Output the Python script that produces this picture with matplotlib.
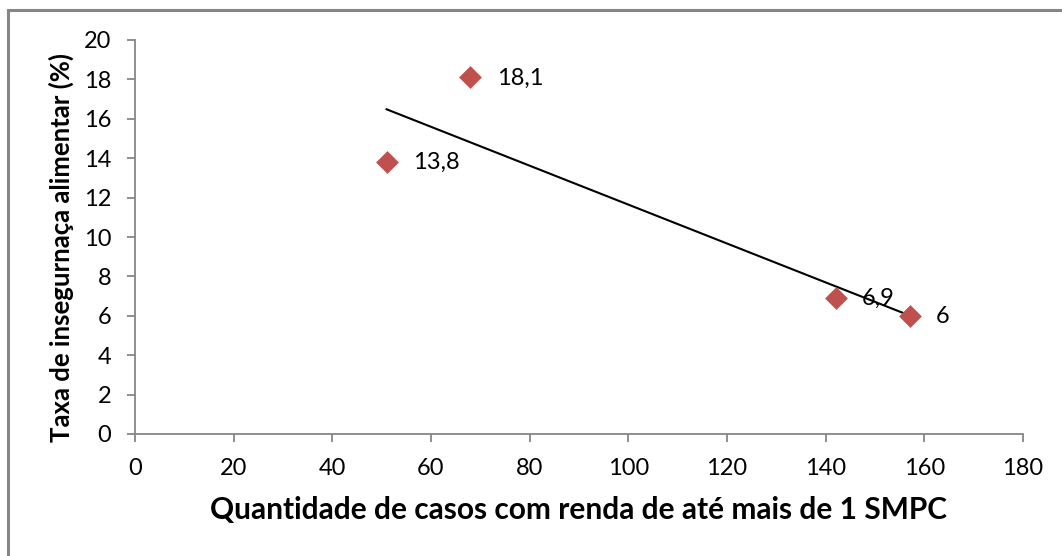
import matplotlib
matplotlib.use('Agg')
import matplotlib.pyplot as plt
import numpy as np
from matplotlib.patches import Rectangle

# dados
casos = [51, 68, 142, 157]
taxa = [13.8, 18.1, 6.9, 6.0]
rotulos = ['13,8', '18,1', '6,9', '6']

plt.rcParams['font.family'] = ['Lato', 'DejaVu Sans']

fig = plt.figure(figsize=(10.62, 5.56), dpi=100)
ax = fig.add_axes([135 / 1062, 1 - 434 / 556, (1023 - 135) / 1062, (434 - 40) / 556])

# borda externa cinza (a direita e embaixo fica fora da imagem)
fig.patches.append(Rectangle((8 / 1062, -0.05), 1.1, 1 - 10 / 556 + 0.05,
                             transform=fig.transFigure, fill=False,
                             edgecolor='#868686', linewidth=2.2))

ax.scatter(casos, taxa, marker='D', s=135, color='#C0504D', zorder=3, linewidths=0)

# linha de tendencia linear
a, b = np.polyfit(casos, taxa, 1)
xs = np.array([min(casos), max(casos)])
ax.plot(xs, a * xs + b, color='black', linewidth=1.5, zorder=2)

for x, y, t in zip(casos, taxa, rotulos):
    ax.annotate(t, (x, y), xytext=(19, -0.5), textcoords='offset points',
                va='center', ha='left', fontsize=17)

ax.set_xlim(0, 180)
ax.set_ylim(0, 20)
ax.set_xticks(np.arange(0, 181, 20))
ax.set_yticks(np.arange(0, 21, 2))

for s in ['top', 'right']:
    ax.spines[s].set_visible(False)
for s in ['left', 'bottom']:
    ax.spines[s].set_color('#868686')
    ax.spines[s].set_linewidth(1.3)
ax.tick_params(direction='out', length=6, width=1.3, color='#868686',
               labelsize=17, pad=11)

ax.set_xlabel('Quantidade de casos com renda de até mais de 1 SMPC',
              fontsize=21.5, fontweight='bold')
ax.set_ylabel('Taxa de insegurnaça alimentar (%)',
              fontsize=18.5, fontweight='bold')
ax.xaxis.set_label_coords((579 - 135) / 888, -(496 - 434) / 394)
ax.yaxis.set_label_coords(-(135 - 74) / 888, (434 - 247) / 394)

fig.savefig('out.png', dpi=100)
